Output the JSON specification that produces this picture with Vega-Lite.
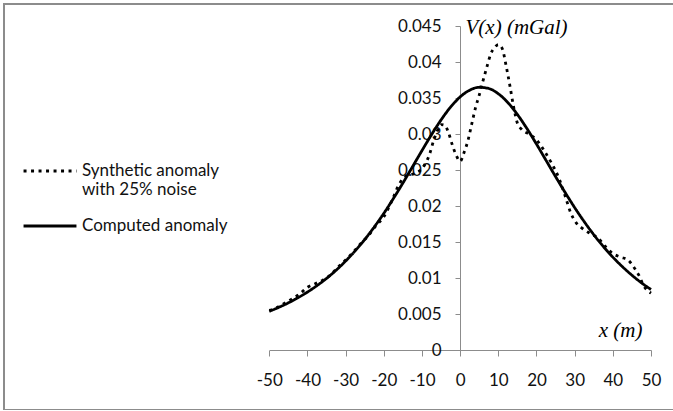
{
  "$schema": "https://vega.github.io/schema/vega-lite/v6.json",
  "width": 674,
  "height": 406,
  "autosize": {"type": "none"},
  "padding": {"left": 4, "top": 4, "right": 0, "bottom": 0},
  "background": "white",
  "config": {
    "view": {"stroke": "#8c8c8c", "strokeWidth": 2},
    "axis": {"labelFont": "Lato", "labelFontSize": 17, "labelColor": "#111111", "domainColor": "#8c8c8c", "tickColor": "#8c8c8c", "grid": false, "labelFlush": false, "labelOverlap": false},
    "legend": {"labelFont": "Lato", "labelFontSize": 17, "labelColor": "#111111", "padding": 0}
  },
  "data": {"values": [
    {"s": "Synthetic anomaly with 25% noise", "x": -50, "v": 0.0055},
    {"s": "Synthetic anomaly with 25% noise", "x": -48, "v": 0.0059},
    {"s": "Synthetic anomaly with 25% noise", "x": -46, "v": 0.0065},
    {"s": "Synthetic anomaly with 25% noise", "x": -44, "v": 0.0071},
    {"s": "Synthetic anomaly with 25% noise", "x": -42, "v": 0.0078},
    {"s": "Synthetic anomaly with 25% noise", "x": -40, "v": 0.0087},
    {"s": "Synthetic anomaly with 25% noise", "x": -38, "v": 0.0092},
    {"s": "Synthetic anomaly with 25% noise", "x": -36, "v": 0.0097},
    {"s": "Synthetic anomaly with 25% noise", "x": -34, "v": 0.0104},
    {"s": "Synthetic anomaly with 25% noise", "x": -32, "v": 0.0115},
    {"s": "Synthetic anomaly with 25% noise", "x": -30, "v": 0.0125},
    {"s": "Synthetic anomaly with 25% noise", "x": -28, "v": 0.0136},
    {"s": "Synthetic anomaly with 25% noise", "x": -26, "v": 0.0148},
    {"s": "Synthetic anomaly with 25% noise", "x": -24, "v": 0.0159},
    {"s": "Synthetic anomaly with 25% noise", "x": -22, "v": 0.0173},
    {"s": "Synthetic anomaly with 25% noise", "x": -20, "v": 0.0185},
    {"s": "Synthetic anomaly with 25% noise", "x": -18, "v": 0.0206},
    {"s": "Synthetic anomaly with 25% noise", "x": -16, "v": 0.0230},
    {"s": "Synthetic anomaly with 25% noise", "x": -15, "v": 0.0238},
    {"s": "Synthetic anomaly with 25% noise", "x": -14, "v": 0.0242},
    {"s": "Synthetic anomaly with 25% noise", "x": -12, "v": 0.0245},
    {"s": "Synthetic anomaly with 25% noise", "x": -10, "v": 0.0252},
    {"s": "Synthetic anomaly with 25% noise", "x": -9, "v": 0.0260},
    {"s": "Synthetic anomaly with 25% noise", "x": -8, "v": 0.0272},
    {"s": "Synthetic anomaly with 25% noise", "x": -7, "v": 0.0290},
    {"s": "Synthetic anomaly with 25% noise", "x": -6, "v": 0.0304},
    {"s": "Synthetic anomaly with 25% noise", "x": -5, "v": 0.0313},
    {"s": "Synthetic anomaly with 25% noise", "x": -4, "v": 0.0312},
    {"s": "Synthetic anomaly with 25% noise", "x": -3, "v": 0.0301},
    {"s": "Synthetic anomaly with 25% noise", "x": -2, "v": 0.0284},
    {"s": "Synthetic anomaly with 25% noise", "x": -1, "v": 0.0270},
    {"s": "Synthetic anomaly with 25% noise", "x": 0, "v": 0.0262},
    {"s": "Synthetic anomaly with 25% noise", "x": 1, "v": 0.0274},
    {"s": "Synthetic anomaly with 25% noise", "x": 2, "v": 0.0290},
    {"s": "Synthetic anomaly with 25% noise", "x": 3, "v": 0.0313},
    {"s": "Synthetic anomaly with 25% noise", "x": 4, "v": 0.0336},
    {"s": "Synthetic anomaly with 25% noise", "x": 5, "v": 0.0354},
    {"s": "Synthetic anomaly with 25% noise", "x": 6, "v": 0.0374},
    {"s": "Synthetic anomaly with 25% noise", "x": 7, "v": 0.0393},
    {"s": "Synthetic anomaly with 25% noise", "x": 8, "v": 0.0411},
    {"s": "Synthetic anomaly with 25% noise", "x": 9, "v": 0.0420},
    {"s": "Synthetic anomaly with 25% noise", "x": 10, "v": 0.0424},
    {"s": "Synthetic anomaly with 25% noise", "x": 11, "v": 0.0419},
    {"s": "Synthetic anomaly with 25% noise", "x": 12, "v": 0.0396},
    {"s": "Synthetic anomaly with 25% noise", "x": 13, "v": 0.0368},
    {"s": "Synthetic anomaly with 25% noise", "x": 14, "v": 0.0338},
    {"s": "Synthetic anomaly with 25% noise", "x": 15, "v": 0.0315},
    {"s": "Synthetic anomaly with 25% noise", "x": 16, "v": 0.0307},
    {"s": "Synthetic anomaly with 25% noise", "x": 18, "v": 0.0300},
    {"s": "Synthetic anomaly with 25% noise", "x": 20, "v": 0.0292},
    {"s": "Synthetic anomaly with 25% noise", "x": 22, "v": 0.0277},
    {"s": "Synthetic anomaly with 25% noise", "x": 24, "v": 0.0259},
    {"s": "Synthetic anomaly with 25% noise", "x": 26, "v": 0.0237},
    {"s": "Synthetic anomaly with 25% noise", "x": 27.5, "v": 0.0214},
    {"s": "Synthetic anomaly with 25% noise", "x": 29, "v": 0.0190},
    {"s": "Synthetic anomaly with 25% noise", "x": 30.5, "v": 0.0176},
    {"s": "Synthetic anomaly with 25% noise", "x": 32, "v": 0.0169},
    {"s": "Synthetic anomaly with 25% noise", "x": 34, "v": 0.0162},
    {"s": "Synthetic anomaly with 25% noise", "x": 36, "v": 0.0156},
    {"s": "Synthetic anomaly with 25% noise", "x": 38, "v": 0.0144},
    {"s": "Synthetic anomaly with 25% noise", "x": 40, "v": 0.0134},
    {"s": "Synthetic anomaly with 25% noise", "x": 42, "v": 0.0129},
    {"s": "Synthetic anomaly with 25% noise", "x": 44, "v": 0.0125},
    {"s": "Synthetic anomaly with 25% noise", "x": 45, "v": 0.0119},
    {"s": "Synthetic anomaly with 25% noise", "x": 46, "v": 0.0111},
    {"s": "Synthetic anomaly with 25% noise", "x": 47, "v": 0.0102},
    {"s": "Synthetic anomaly with 25% noise", "x": 48, "v": 0.0090},
    {"s": "Synthetic anomaly with 25% noise", "x": 49, "v": 0.0083},
    {"s": "Synthetic anomaly with 25% noise", "x": 50, "v": 0.0079},
    {"s": "Computed anomaly", "x": -50, "v": 0.00537},
    {"s": "Computed anomaly", "x": -47.5, "v": 0.00593},
    {"s": "Computed anomaly", "x": -45, "v": 0.00655},
    {"s": "Computed anomaly", "x": -42.5, "v": 0.00726},
    {"s": "Computed anomaly", "x": -40, "v": 0.00805},
    {"s": "Computed anomaly", "x": -37.5, "v": 0.00895},
    {"s": "Computed anomaly", "x": -35, "v": 0.00995},
    {"s": "Computed anomaly", "x": -32.5, "v": 0.01108},
    {"s": "Computed anomaly", "x": -30, "v": 0.01236},
    {"s": "Computed anomaly", "x": -27.5, "v": 0.01377},
    {"s": "Computed anomaly", "x": -25, "v": 0.01535},
    {"s": "Computed anomaly", "x": -22.5, "v": 0.01709},
    {"s": "Computed anomaly", "x": -20, "v": 0.01898},
    {"s": "Computed anomaly", "x": -17.5, "v": 0.02103},
    {"s": "Computed anomaly", "x": -15, "v": 0.02319},
    {"s": "Computed anomaly", "x": -12.5, "v": 0.02544},
    {"s": "Computed anomaly", "x": -10, "v": 0.02770},
    {"s": "Computed anomaly", "x": -7.5, "v": 0.02991},
    {"s": "Computed anomaly", "x": -5, "v": 0.03196},
    {"s": "Computed anomaly", "x": -2.5, "v": 0.03374},
    {"s": "Computed anomaly", "x": 0, "v": 0.03515},
    {"s": "Computed anomaly", "x": 2.5, "v": 0.03609},
    {"s": "Computed anomaly", "x": 5, "v": 0.03649},
    {"s": "Computed anomaly", "x": 7.5, "v": 0.03632},
    {"s": "Computed anomaly", "x": 10, "v": 0.03559},
    {"s": "Computed anomaly", "x": 12.5, "v": 0.03436},
    {"s": "Computed anomaly", "x": 15, "v": 0.03271},
    {"s": "Computed anomaly", "x": 17.5, "v": 0.03075},
    {"s": "Computed anomaly", "x": 20, "v": 0.02860},
    {"s": "Computed anomaly", "x": 22.5, "v": 0.02634},
    {"s": "Computed anomaly", "x": 25, "v": 0.02408},
    {"s": "Computed anomaly", "x": 27.5, "v": 0.02188},
    {"s": "Computed anomaly", "x": 30, "v": 0.01978},
    {"s": "Computed anomaly", "x": 32.5, "v": 0.01783},
    {"s": "Computed anomaly", "x": 35, "v": 0.01602},
    {"s": "Computed anomaly", "x": 37.5, "v": 0.01438},
    {"s": "Computed anomaly", "x": 40, "v": 0.01290},
    {"s": "Computed anomaly", "x": 42.5, "v": 0.01158},
    {"s": "Computed anomaly", "x": 45, "v": 0.01039},
    {"s": "Computed anomaly", "x": 47.5, "v": 0.00933},
    {"s": "Computed anomaly", "x": 50, "v": 0.00840}
  ]},
  "mark": {"type": "line", "color": "black", "strokeWidth": 2.8, "interpolate": "monotone", "strokeCap": "butt"},
  "encoding": {
    "x": {
      "field": "x", "type": "quantitative",
      "scale": {"domain": [-50, 50], "range": [265.3, 647], "nice": false, "zero": false},
      "axis": {
        "orient": "bottom", "offset": -60, "values": [-50, -40, -30, -20, -10, 0, 10, 20, 30, 40, 50],
        "tickSize": 6, "labelPadding": 16, "labelExpr": "'' + datum.value",
        "title": "x (m)", "titleFont": "Liberation Serif", "titleFontStyle": "italic", "titleFontWeight": "normal",
        "titleFontSize": 21, "titleColor": "#000", "titleX": 638, "titleY": -20, "titleAlign": "right", "titleBaseline": "middle", "titleAngle": 0
      }
    },
    "y": {
      "field": "v", "type": "quantitative",
      "scale": {"domain": [0, 0.045], "range": [346, 22], "nice": false, "zero": false},
      "axis": {
        "orient": "left", "offset": -456, "values": [0, 0.005, 0.01, 0.015, 0.02, 0.025, 0.03, 0.035, 0.04, 0.045],
        "tickSize": 5, "labelPadding": 14, "labelExpr": "'' + datum.value",
        "title": "V(x) (mGal)", "titleFont": "Liberation Serif", "titleFontStyle": "italic", "titleFontWeight": "normal",
        "titleFontSize": 21, "titleColor": "#000", "titleX": 5, "titleY": 23, "titleAlign": "left", "titleBaseline": "middle", "titleAngle": 0
      }
    },
    "strokeDash": {
      "field": "s", "type": "nominal",
      "scale": {"domain": ["Synthetic anomaly with 25% noise", "Computed anomaly"], "range": [[3, 4.5], [1, 0]]},
      "legend": {
        "title": null, "orient": "none", "legendX": 18, "legendY": 139,
        "symbolType": "stroke", "symbolSize": 2800, "symbolStrokeWidth": 3, "symbolStrokeColor": "black",
        "labelOffset": 4, "labelLimit": 300, "rowPadding": 0,
        "labelExpr": "datum.label == 'Synthetic anomaly with 25% noise' ? ['Synthetic anomaly', 'with 25% noise'] : datum.label"
      }
    }
  }
}
